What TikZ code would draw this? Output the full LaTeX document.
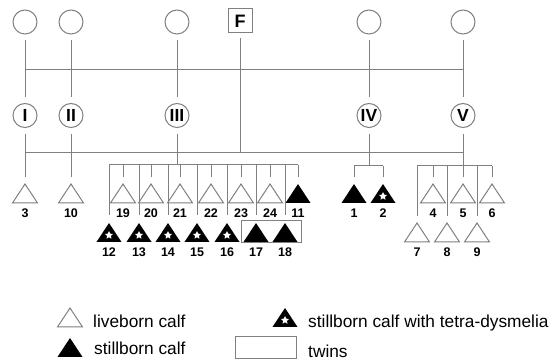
\documentclass[tikz,border=0pt]{standalone}
\usepackage{fontspec}
\setmainfont{Liberation Sans}
\usetikzlibrary{shapes.geometric}
\definecolor{lg}{gray}{0.5}
\tikzset{
  conn/.style={draw=lg, line width=1pt},
  gap/.style={shorten <=6pt, shorten >=6pt},
  founder/.style={circle, draw=lg, line width=1pt, minimum size=24pt, inner sep=0pt},
  sire/.style={rectangle, draw=lg, line width=1pt, minimum size=24pt, inner sep=0pt, font=\fontsize{18}{18}\selectfont\bfseries},
  dam/.style={circle, draw=lg, line width=1pt, minimum size=24pt, inner sep=0pt, font=\fontsize{17.5}{17.5}\selectfont\bfseries},
  num/.style={inner sep=0pt, anchor=base, font=\fontsize{12.5}{12.5}\selectfont\bfseries},
  legendtext/.style={inner sep=0pt, anchor=base west, font=\fontsize{17.3}{20}\selectfont},
  twinbox/.style={draw=lg, line width=1pt, inner sep=0pt},
  livecalf/.pic={\path[draw=lg, fill=white, line width=1pt] (0,0) -- (12.5,19) -- (-12.5,19) -- cycle; \coordinate (-top) at (0,0);},
  stillcalf/.pic={\path[fill=black] (0,0) -- (12.5,19) -- (-12.5,19) -- cycle; \coordinate (-top) at (0,0);},
  starcalf/.pic={\path[fill=black] (0,0) -- (12.5,19) -- (-12.5,19) -- cycle; \node[star, star points=5, star point ratio=2.1, fill=white, inner sep=0pt, minimum size=8.5pt] (-star) at (0,12.3) {}; \coordinate (-top) at (0,0);},
}
\newcommand\calf[5]{\pic (#1) at (#2,#3) {#4}; \node[num] (#1-lab) at (#2,#3+33.5) {#5};}
\begin{document}
\begin{tikzpicture}[x=1pt,y=-1pt]
\useasboundingbox (0,0) rectangle (552,363);
% founders
\node[founder] (t1) at (25,22) {};
\node[founder] (t2) at (71,22) {};
\node[founder] (t3) at (177,22) {};
\node[founder] (t4) at (369,22) {};
\node[founder] (t5) at (463,22) {};
\node[sire] (f) at (240,21) {F};
\node[dam] (r1) at (25,115.5) {I};
\node[dam] (r2) at (71,115.5) {II};
\node[dam] (r3) at (177,115.5) {III};
\node[dam] (r4) at (369,115.5) {IV};
\node[dam] (r5) at (463,115.5) {V};
\coordinate (h1a) at (25,70); \coordinate (h1b) at (463,70);
\coordinate (h2a) at (25,153); \coordinate (h2b) at (463,153);
\draw[conn] (h1a) -- (h1b);
\draw[conn] (h2a) -- (h2b);
\foreach \i in {1,...,5} \draw[conn,gap] (t\i) -- (r\i);
\draw[conn, shorten <=5pt] (f) -- (f |- h2a);
% I and II
\calf{n3}{25}{184}{livecalf}{3}
\calf{n10}{71}{184}{livecalf}{10}
\draw[conn, gap, shorten >=7pt] (r1) -- (n3-top);
\draw[conn, gap, shorten >=7pt] (r2) -- (n10-top);
% III
\coordinate (b3) at (177,165);
\coordinate (b3a) at (109,165); \coordinate (b3b) at (298,165);
\draw[conn, shorten <=6pt] (r3) -- (b3);
\draw[conn] (b3a) -- (b3b);
\node[twinbox, minimum width=60pt, minimum height=22pt] (tw) at (271,232) {};
\foreach \n/\x in {19/123,20/151,21/180,22/211,23/241,24/270} {
  \calf{n\n}{\x}{184}{livecalf}{\n}
  \draw[conn, shorten >=7pt] (n\n-top |- b3) -- (n\n-top);
}
\calf{n11}{298}{184}{stillcalf}{11}
\draw[conn, shorten >=7pt] (n11-top |- b3) -- (n11-top);
\foreach \n/\x in {12/109,13/139,14/168,15/197,16/227} {
  \calf{n\n}{\x}{223}{starcalf}{\n}
  \draw[conn, shorten >=8pt] (n\n-top |- b3) -- (n\n-top);
}
\foreach \n/\x in {17/256,18/285} {
  \calf{n\n}{\x}{223}{stillcalf}{\n}
  \draw[conn, shorten >=8pt] (n\n-top |- b3) -- (n\n-top);
}
% IV
\coordinate (b4) at (369,166);
\coordinate (b4a) at (354,166); \coordinate (b4b) at (383,166);
\draw[conn, shorten <=6pt] (r4) -- (b4);
\draw[conn] (b4a) -- (b4b);
\calf{n1}{354}{184}{stillcalf}{1}
\calf{n2}{383}{184}{starcalf}{2}
\draw[conn, shorten >=7pt] (b4a) -- (n1-top);
\draw[conn, shorten >=7pt] (b4b) -- (n2-top);
% V
\coordinate (b5) at (463,166);
\coordinate (b5a) at (417,166); \coordinate (b5b) at (492,166);
\draw[conn] (b5a) -- (b5b);
\foreach \n/\x in {4/433,5/463,6/492} {
  \calf{n\n}{\x}{184}{livecalf}{\n}
}
\draw[conn, gap, shorten >=7pt] (r5) -- (n5-top);
\draw[conn, shorten >=7pt] (n4-top |- b5) -- (n4-top);
\draw[conn, shorten >=7pt] (n6-top |- b5) -- (n6-top);
\foreach \n/\x in {7/417,8/447,9/477} {
  \calf{n\n}{\x}{223}{livecalf}{\n}
  \draw[conn, shorten >=7pt] (n\n-top |- b5) -- (n\n-top);
}
% legend
\pic (lg1) at (70,308) {livecalf};
\node[legendtext] (lt1) at (93,328) {liveborn calf};
\pic (lg2) at (70,338) {stillcalf};
\node[legendtext] (lt2) at (94,355) {stillborn calf};
\pic (lg3) at (285,308) {starcalf};
\node[legendtext] (lt3) at (308,328) {stillborn calf with tetra-dysmelia};
\node[twinbox, minimum width=61pt, minimum height=22pt] (lg4) at (265.5,348) {};
\node[legendtext] (lt4) at (308,358) {twins};
\end{tikzpicture}
\end{document}
